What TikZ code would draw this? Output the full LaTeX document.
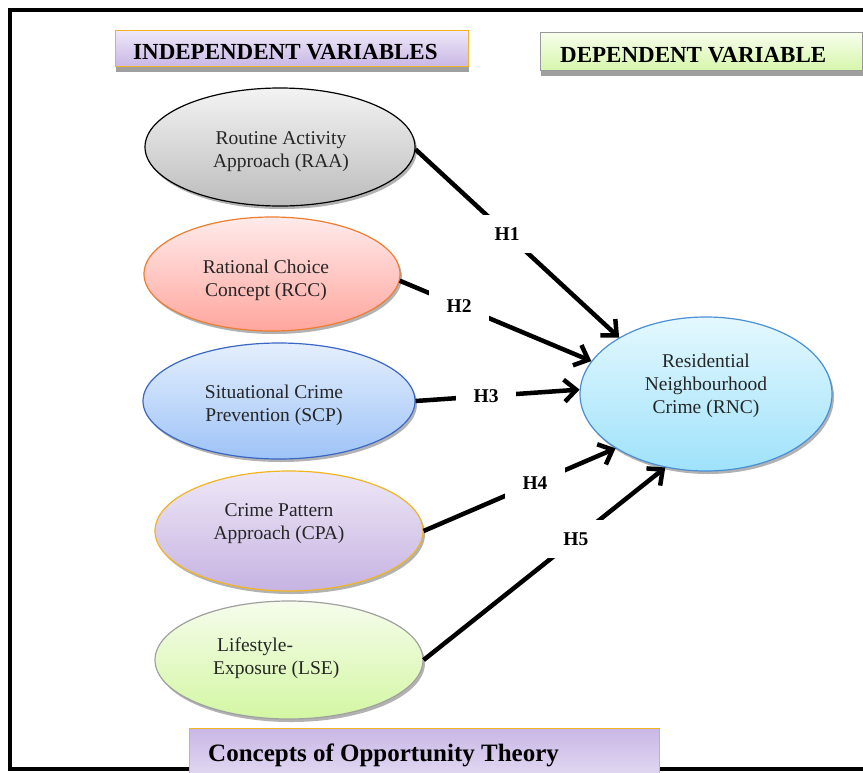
\documentclass[tikz,border=0pt]{standalone}
\usepackage{fontspec}
\setmainfont{Liberation Serif}
\usetikzlibrary{shapes.geometric,arrows.meta,shadows}
\definecolor{raaT}{HTML}{F3F3F3}\definecolor{raaB}{HTML}{BCBCBC}
\definecolor{rccT}{HTML}{FFEBEB}\definecolor{rccB}{HTML}{FFA69E}\definecolor{rccD}{HTML}{ED7D31}
\definecolor{scpT}{HTML}{E4EFFD}\definecolor{scpB}{HTML}{9EC3F7}\definecolor{scpD}{HTML}{3A66C4}
\definecolor{cpaT}{HTML}{EEE7F6}\definecolor{cpaB}{HTML}{C6B3E2}\definecolor{gold}{HTML}{F2B521}
\definecolor{lseT}{HTML}{F6FCEC}\definecolor{lseB}{HTML}{D3F7A3}\definecolor{lseD}{HTML}{A0A0A0}
\definecolor{rncT}{HTML}{E4F8FE}\definecolor{rncB}{HTML}{9FE2FB}\definecolor{rncD}{HTML}{4A8FD3}
\definecolor{purT}{HTML}{EFE8F8}\definecolor{purB}{HTML}{C8B7E5}
\definecolor{grnT}{HTML}{F7FEEC}\definecolor{grnB}{HTML}{D6F6AB}
\begin{document}
\begin{tikzpicture}[x=1pt,y=-1pt,
  ell/.style={ellipse, inner sep=0pt, line width=1.2pt,
    drop shadow={shadow xshift=2pt, shadow yshift=-3pt, fill=black, opacity=0.3}},
  etxt/.style={align=center, inner sep=0pt, font=\fontsize{19.5}{23}\selectfont, text=black!85},
  hdr/.style={anchor=north west, inner sep=0pt, line width=1.3pt,
    drop shadow={shadow xshift=0pt, shadow yshift=-5pt, fill=gray!75, opacity=1}},
  htxt/.style={anchor=base west, inner sep=0pt, font=\bfseries\fontsize{23}{24}\selectfont},
  conn/.style={line width=4.5pt, -{Straight Barb[length=12pt,width=22pt]}},
  hlab/.style={fill=white, inner sep=0pt, minimum width=60pt, minimum height=38pt,
    font=\bfseries\fontsize{19.5}{19.5}\selectfont}]
\useasboundingbox (0,0) rectangle (863,772);
\clip (0,0) rectangle (863,772);
% frame
\draw[line width=4.5pt] (10,10) rectangle (900,769);
% headers
\node[hdr, draw=gold, top color=purT, bottom color=purB, minimum width=353pt, minimum height=36pt] (indep) at (115,30) {};
\node[htxt] (indept) at (133,59) {INDEPENDENT VARIABLES};
\node[hdr, draw=gray!80, top color=grnT, bottom color=grnB, minimum width=322pt, minimum height=38pt] (dep) at (540,32) {};
\node[htxt] (dept) at (560,62) {DEPENDENT VARIABLE};
% ellipses
\node[ell, draw=black, top color=raaT, bottom color=raaB, minimum width=270pt, minimum height=118pt] (RAA) at (280,147) {};
\node[etxt] (RAAt) at (281,152) {Routine Activity\\Approach (RAA)};
\node[ell, draw=rccD, top color=rccT, bottom color=rccB, minimum width=256pt, minimum height=114pt] (RCC) at (272,274) {};
\node[etxt] (RCCt) at (266,280) {Rational Choice\\Concept (RCC)};
\node[ell, draw=scpD, top color=scpT, bottom color=scpB, minimum width=272pt, minimum height=116pt] (SCP) at (279,401) {};
\node[etxt] (SCPt) at (274,405) {Situational Crime\\Prevention (SCP)};
\node[ell, draw=gold, top color=cpaT, bottom color=cpaB, minimum width=268pt, minimum height=120pt] (CPA) at (289,531) {};
\node[etxt] (CPAt) at (279,524) {Crime Pattern\\Approach (CPA)};
\node[ell, draw=lseD, top color=lseT, bottom color=lseB, minimum width=268pt, minimum height=118pt] (LSE) at (289,660) {};
\node[etxt, align=left, anchor=west] (LSEt) at (213,658) {\hspace*{4pt}Lifestyle-\\Exposure (LSE)};
\node[ell, draw=rncD, top color=rncT, bottom color=rncB, minimum width=252pt, minimum height=154pt] (RNC) at (706,394) {};
\node[etxt] (RNCt) at (706,386) {Residential\\Neighbourhood\\Crime (RNC)};
% connectors
\draw[conn] (RAA.-1) -- node[hlab, pos=0.45] (h1) {H1} (RNC.147);
\draw[conn] (RCC.-3) -- node[hlab, pos=0.31] (h2) {H2} (RNC.164);
\draw[conn] (SCP.east) -- node[hlab, pos=0.43] (h3) {H3} (RNC.178.6);
\draw[conn] (CPA.east) -- node[hlab, pos=0.58] (h4) {H4} (RNC.211);
\draw[conn] (LSE.east) -- node[hlab, pos=0.63] (h5) {H5} (RNC.241.6);
% bottom title
\node[anchor=north west, inner sep=0pt, draw=gold, line width=1.3pt, top color=purB, bottom color=purT, minimum width=470pt, minimum height=70pt] (concepts) at (189,728) {};
\node[anchor=base west, inner sep=0pt, font=\bfseries\fontsize{25}{28}\selectfont] (conceptst) at (208,761) {Concepts of Opportunity Theory};
\end{tikzpicture}
\end{document}
